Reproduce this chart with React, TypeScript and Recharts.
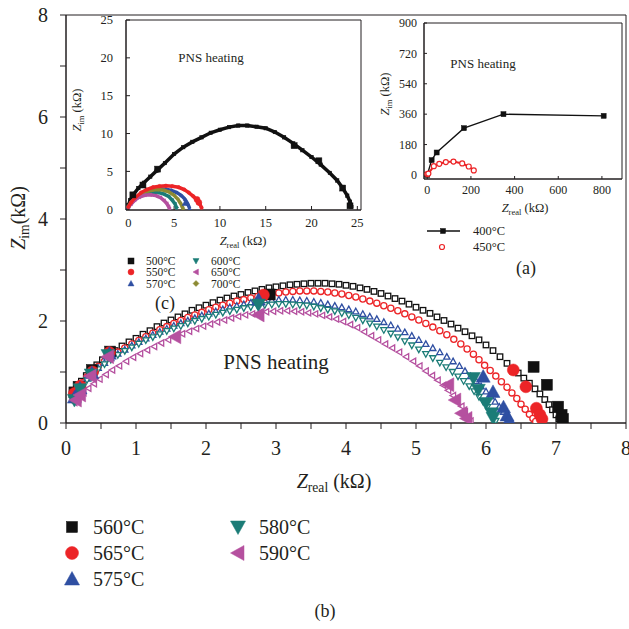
import React from "react";
import { ScatterChart, Scatter, XAxis, YAxis, ReferenceArea } from "recharts";

const FONT = "'Liberation Serif', 'DejaVu Serif', serif";
const INK = "#231f20";

// ---- main panel (b): fitted arcs, kOhm ----
const arc560 = [[0.10,0.62],[0.16,0.72],[0.22,0.82],[0.29,0.93],[0.36,1.04],[0.44,1.14],[0.52,1.24],[0.61,1.33],[0.70,1.42],[0.80,1.51],[0.90,1.59],[1.00,1.66],[1.10,1.74],[1.20,1.81],[1.30,1.89],[1.40,1.96],[1.50,2.02],[1.60,2.08],[1.70,2.14],[1.80,2.21],[1.90,2.26],[2.00,2.31],[2.10,2.36],[2.20,2.41],[2.30,2.45],[2.40,2.49],[2.50,2.52],[2.60,2.56],[2.70,2.59],[2.80,2.62],[2.90,2.65],[3.00,2.67],[3.10,2.69],[3.20,2.71],[3.30,2.72],[3.40,2.73],[3.50,2.74],[3.60,2.74],[3.70,2.74],[3.80,2.73],[3.90,2.72],[4.00,2.70],[4.10,2.68],[4.20,2.65],[4.30,2.62],[4.40,2.58],[4.50,2.54],[4.60,2.49],[4.70,2.44],[4.80,2.39],[4.90,2.33],[5.00,2.27],[5.10,2.21],[5.20,2.15],[5.30,2.08],[5.40,2.01],[5.50,1.94],[5.60,1.86],[5.70,1.79],[5.80,1.71],[5.90,1.63],[6.00,1.53],[6.10,1.42],[6.20,1.30],[6.30,1.17],[6.38,1.07],[6.46,0.98],[6.54,0.88],[6.62,0.78],[6.70,0.67],[6.77,0.57],[6.84,0.46],[6.90,0.36],[6.95,0.26],[7.00,0.16],[7.04,0.08],[7.07,0.02]];
const arc565 = [[0.10,0.58],[0.16,0.68],[0.23,0.79],[0.30,0.90],[0.38,1.01],[0.46,1.11],[0.55,1.21],[0.64,1.30],[0.74,1.39],[0.84,1.47],[0.94,1.55],[1.04,1.62],[1.14,1.69],[1.24,1.76],[1.34,1.83],[1.44,1.89],[1.54,1.95],[1.64,2.01],[1.74,2.07],[1.84,2.12],[1.94,2.17],[2.04,2.22],[2.14,2.27],[2.24,2.31],[2.34,2.35],[2.44,2.39],[2.54,2.42],[2.64,2.45],[2.74,2.48],[2.84,2.51],[2.94,2.53],[3.04,2.55],[3.14,2.57],[3.24,2.58],[3.34,2.59],[3.44,2.59],[3.54,2.59],[3.64,2.58],[3.74,2.57],[3.84,2.55],[3.94,2.53],[4.04,2.50],[4.14,2.47],[4.24,2.43],[4.34,2.39],[4.44,2.35],[4.54,2.30],[4.64,2.25],[4.74,2.20],[4.84,2.14],[4.94,2.08],[5.04,2.02],[5.14,1.95],[5.24,1.88],[5.34,1.81],[5.44,1.73],[5.54,1.64],[5.64,1.55],[5.73,1.45],[5.82,1.35],[5.90,1.24],[5.98,1.13],[6.06,1.03],[6.14,0.92],[6.22,0.81],[6.30,0.70],[6.37,0.59],[6.44,0.48],[6.50,0.37],[6.56,0.27],[6.62,0.17],[6.67,0.09],[6.71,0.03]];
const arc575 = [[0.10,0.55],[0.16,0.65],[0.23,0.76],[0.30,0.87],[0.38,0.98],[0.46,1.08],[0.55,1.18],[0.64,1.27],[0.74,1.36],[0.84,1.44],[0.94,1.52],[1.04,1.59],[1.14,1.66],[1.24,1.73],[1.34,1.79],[1.44,1.85],[1.54,1.91],[1.64,1.96],[1.74,2.01],[1.84,2.06],[1.94,2.11],[2.04,2.15],[2.14,2.19],[2.24,2.23],[2.34,2.27],[2.44,2.30],[2.54,2.33],[2.64,2.36],[2.74,2.38],[2.84,2.40],[2.94,2.41],[3.04,2.42],[3.14,2.42],[3.24,2.42],[3.34,2.41],[3.44,2.40],[3.54,2.38],[3.64,2.36],[3.74,2.33],[3.84,2.30],[3.94,2.27],[4.04,2.23],[4.14,2.19],[4.24,2.14],[4.34,2.09],[4.44,2.04],[4.54,1.98],[4.64,1.92],[4.74,1.85],[4.84,1.78],[4.94,1.71],[5.04,1.63],[5.14,1.55],[5.24,1.47],[5.34,1.39],[5.44,1.30],[5.53,1.21],[5.62,1.12],[5.70,1.02],[5.78,0.92],[5.86,0.82],[5.93,0.72],[6.00,0.62],[6.07,0.52],[6.13,0.42],[6.19,0.32],[6.25,0.22],[6.30,0.13],[6.34,0.05]];
const arc580 = [[0.10,0.52],[0.16,0.62],[0.23,0.73],[0.30,0.84],[0.38,0.95],[0.46,1.05],[0.55,1.15],[0.64,1.24],[0.74,1.33],[0.84,1.41],[0.94,1.48],[1.04,1.55],[1.14,1.62],[1.24,1.68],[1.34,1.74],[1.44,1.80],[1.54,1.85],[1.64,1.90],[1.74,1.95],[1.84,2.00],[1.94,2.04],[2.04,2.08],[2.14,2.12],[2.24,2.16],[2.34,2.19],[2.44,2.22],[2.54,2.25],[2.64,2.27],[2.74,2.29],[2.84,2.31],[2.94,2.32],[3.04,2.33],[3.14,2.33],[3.24,2.32],[3.34,2.31],[3.44,2.30],[3.54,2.28],[3.64,2.25],[3.74,2.22],[3.84,2.19],[3.94,2.15],[4.04,2.11],[4.14,2.06],[4.24,2.01],[4.34,1.95],[4.44,1.89],[4.54,1.82],[4.64,1.75],[4.74,1.68],[4.84,1.60],[4.94,1.52],[5.04,1.44],[5.14,1.35],[5.24,1.27],[5.34,1.18],[5.43,1.09],[5.52,1.00],[5.60,0.91],[5.68,0.82],[5.76,0.72],[5.83,0.62],[5.90,0.51],[5.96,0.41],[6.02,0.31],[6.07,0.21],[6.11,0.12],[6.14,0.04]];
const arc590 = [[0.12,0.40],[0.18,0.49],[0.25,0.59],[0.32,0.68],[0.40,0.77],[0.48,0.86],[0.57,0.95],[0.66,1.04],[0.76,1.12],[0.86,1.21],[0.96,1.29],[1.06,1.36],[1.16,1.43],[1.26,1.50],[1.36,1.57],[1.46,1.63],[1.56,1.69],[1.66,1.75],[1.76,1.80],[1.86,1.85],[1.96,1.90],[2.06,1.94],[2.16,1.98],[2.26,2.02],[2.36,2.06],[2.46,2.09],[2.56,2.12],[2.66,2.14],[2.76,2.16],[2.86,2.18],[2.96,2.19],[3.06,2.20],[3.16,2.20],[3.26,2.19],[3.36,2.18],[3.46,2.16],[3.56,2.14],[3.66,2.11],[3.76,2.08],[3.86,2.04],[3.96,1.99],[4.06,1.93],[4.16,1.87],[4.26,1.79],[4.36,1.71],[4.46,1.63],[4.56,1.55],[4.66,1.47],[4.76,1.39],[4.86,1.30],[4.96,1.21],[5.05,1.12],[5.14,1.02],[5.23,0.93],[5.31,0.84],[5.39,0.74],[5.46,0.64],[5.53,0.54],[5.59,0.44],[5.65,0.33],[5.70,0.22],[5.74,0.12],[5.78,0.04]];

// ---- main panel (b): measured points (large filled markers) ----
const pts560 = [[0.12,0.60],[0.18,0.71],[0.37,1.04],[0.63,1.40],[2.91,2.52],[6.68,1.10],[6.87,0.75],[7.03,0.32],[7.08,0.16],[7.10,0.08]];
const pts565 = [[0.12,0.58],[0.20,0.72],[0.38,1.00],[0.62,1.38],[2.82,2.51],[6.39,1.04],[6.57,0.71],[6.72,0.29],[6.77,0.16],[6.80,0.08]];
const pts575 = [[0.12,0.50],[0.20,0.68],[0.37,0.98],[0.62,1.36],[2.75,2.42],[5.96,0.91],[6.10,0.61],[6.25,0.31],[6.30,0.15],[6.33,0.06]];
const pts580 = [[0.12,0.45],[0.20,0.66],[0.36,0.95],[0.60,1.33],[2.75,2.32],[5.82,0.88],[5.89,0.65],[6.00,0.39],[6.08,0.19],[6.10,0.10]];
const pts590 = [[0.14,0.45],[0.20,0.55],[0.35,0.92],[0.60,1.30],[1.56,1.69],[2.75,2.12],[5.46,0.75],[5.56,0.45],[5.65,0.19],[5.72,0.09]];

// ---- inset (c) ----
const c500 = [[0.0,0.5],[0.2,1.2],[0.6,2.0],[1.1,2.8],[1.7,3.5],[2.4,4.3],[3.1,5.1],[4.0,6.1],[5.0,7.3],[6.0,8.2],[7.0,8.9],[8.0,9.5],[9.0,10.1],[10.0,10.5],[11.0,10.85],[12.0,11.05],[13.0,11.05],[14.0,10.9],[15.0,10.7],[16.0,10.2],[17.0,9.5],[18.0,8.7],[19.0,7.8],[20.0,6.9],[21.0,5.9],[22.0,4.8],[22.8,3.8],[23.4,2.8],[23.9,1.8],[24.2,1.0],[24.35,0.3]];
const c500pts = [[0.5,1.9],[1.6,3.2],[3.2,5.3],[18.1,8.4],[20.8,6.4],[23.4,2.8],[24.2,0.45]];
const c550 = [[0.0,0.3],[0.3,0.9],[0.8,1.6],[1.4,2.2],[2.0,2.6],[2.7,2.9],[3.4,3.05],[4.1,3.1],[4.8,3.05],[5.5,2.9],[6.1,2.6],[6.6,2.2],[7.1,1.7],[7.5,1.2],[7.8,0.7],[8.0,0.2]];
const c550pts = [[7.5,1.3],[7.7,0.9]];
const c570 = [[0.0,0.3],[0.3,0.8],[0.8,1.4],[1.4,1.95],[2.0,2.35],[2.7,2.6],[3.4,2.7],[4.1,2.65],[4.7,2.5],[5.3,2.2],[5.8,1.8],[6.2,1.3],[6.5,0.7],[6.7,0.1]];
const c570pts = [[6.2,0.8]];
const c600 = [[0.0,0.3],[0.3,0.8],[0.8,1.35],[1.4,1.8],[2.0,2.1],[2.7,2.25],[3.3,2.2],[3.9,2.0],[4.4,1.7],[4.8,1.2],[5.1,0.7],[5.3,0.1]];
const c650 = [[0.0,0.25],[0.3,0.7],[0.7,1.2],[1.2,1.6],[1.8,1.85],[2.4,1.9],[3.0,1.8],[3.5,1.55],[3.9,1.15],[4.2,0.75],[4.4,0.35],[4.5,0.05]];
const c700 = [[0.0,0.35],[0.3,0.9],[0.8,1.5],[1.4,2.0],[2.0,2.35],[2.7,2.55],[3.3,2.6],[3.9,2.5],[4.5,2.25],[5.0,1.85],[5.4,1.35],[5.7,0.8],[5.9,0.3],[6.0,0.05]];

// ---- inset (a) ----
const a400 = [[0,0],[20,88],[43,133],[168,277],[349,360],[808,350]];
const a450 = [[0,5],[5,8],[30,52],[55,66],[85,76],[120,79],[160,68],[190,50],[213,27]];

const mainXTicks = [0,0.5,1,1.5,2,2.5,3,3.5,4,4.5,5,5.5,6,6.5,7,7.5,8];
const mainYTicks = [0,1,2,3,4,5,6,7,8];
const cTicks = [0,5,10,15,20,25];
const aXTicks = [0,200,400,600,800];
const aYTicks = [0,180,360,540,720,900];

const toPts = (a: number[][]) => a.map(([x, y]) => ({ x, y }));

type Kind = "square" | "circle" | "up" | "down" | "left" | "diamond";

const Mark = ({ kind, cx, cy, s, fill, stroke, sw }: any) => {
  const h = s / 2;
  if (cx == null || cy == null) return null;
  const common = { fill, stroke, strokeWidth: sw };
  switch (kind as Kind) {
    case "square":
      return <rect x={cx - h} y={cy - h} width={s} height={s} {...common} />;
    case "circle":
      return <circle cx={cx} cy={cy} r={h} {...common} />;
    case "up":
      return <path d={`M${cx},${cy - h}L${cx + h},${cy + h * 0.8}L${cx - h},${cy + h * 0.8}Z`} {...common} />;
    case "down":
      return <path d={`M${cx},${cy + h}L${cx + h},${cy - h * 0.8}L${cx - h},${cy - h * 0.8}Z`} {...common} />;
    case "left":
      return <path d={`M${cx - h},${cy}L${cx + h * 0.8},${cy - h}L${cx + h * 0.8},${cy + h}Z`} {...common} />;
    default:
      return <path d={`M${cx},${cy - h}L${cx + h},${cy}L${cx},${cy + h}L${cx - h},${cy}Z`} {...common} />;
  }
};

const shape = (kind: Kind, s: number, fill: string, stroke: string, sw = 1) => (p: any) => (
  <Mark kind={kind} cx={p.cx} cy={p.cy} s={s} fill={fill} stroke={stroke} sw={sw} />
);

const BLACK = "#111111";
const RED = "#ec2427";
const BLUE = "#2f4fa2";
const TEAL = "#1b7c77";
const MAGENTA = "#b5509f";
const OLIVE = "#8c8a33";

const mainSeries = [
  { name: "560°C", arc: arc560, pts: pts560, kind: "square" as Kind, color: BLACK, big: 11 },
  { name: "565°C", arc: arc565, pts: pts565, kind: "circle" as Kind, color: RED, big: 12 },
  { name: "575°C", arc: arc575, pts: pts575, kind: "up" as Kind, color: BLUE, big: 14 },
  { name: "580°C", arc: arc580, pts: pts580, kind: "down" as Kind, color: TEAL, big: 14 },
  { name: "590°C", arc: arc590, pts: pts590, kind: "left" as Kind, color: MAGENTA, big: 14 },
];

const insetSeries = [
  { name: "500°C", arc: c500, pts: c500pts, kind: "square" as Kind, color: BLACK },
  { name: "570°C", arc: c570, pts: c570pts, kind: "up" as Kind, color: BLUE },
  { name: "600°C", arc: c600, pts: [], kind: "down" as Kind, color: TEAL },
  { name: "700°C", arc: c700, pts: [], kind: "diamond" as Kind, color: OLIVE },
  { name: "650°C", arc: c650, pts: [], kind: "left" as Kind, color: MAGENTA },
  { name: "550°C", arc: c550, pts: c550pts, kind: "circle" as Kind, color: RED },
];

const ZTitle = ({ x, y, sub, size, rotate, gap = " " }: any) => (
  <text
    x={x}
    y={y}
    textAnchor="middle"
    dominantBaseline="central"
    fontFamily={FONT}
    fontSize={size}
    fill={INK}
    transform={rotate ? `rotate(-90 ${x} ${y})` : undefined}
  >
    <tspan fontStyle="italic">Z</tspan>
    <tspan fontSize={size * 0.68} dy={size * 0.3}>{sub}</tspan>
    <tspan dy={-size * 0.3}>{gap + "(kΩ)"}</tspan>
  </text>
);

const Txt = ({ x, y, size, children, anchor = "start" }: any) => (
  <text x={x} y={y} fontFamily={FONT} fontSize={size} fill={INK} textAnchor={anchor} dominantBaseline="central">
    {children}
  </text>
);

const tickStyle = (size: number) => ({ fontSize: size, fontFamily: FONT, fill: INK });

export default function App() {
  return (
    <div style={{ position: "absolute", left: 0, top: 0, width: 629, height: 629, background: "#fff" }}>
      {/* main panel (b) */}
      <div style={{ position: "absolute", left: 0, top: 0 }}>
        <ScatterChart width={629} height={629} margin={{ top: 15, right: 3, bottom: 176, left: 26 }}>
          <XAxis
            type="number"
            dataKey="x"
            domain={[0, 8]}
            ticks={mainXTicks}
            interval={0}
            tickFormatter={(v: number) => (Number.isInteger(v) ? String(v) : "")}
            tick={tickStyle(20)}
            tickSize={6}
            tickMargin={12}
            stroke={INK}
            height={30}
            allowDataOverflow
          />
          <YAxis
            type="number"
            dataKey="y"
            domain={[0, 8]}
            ticks={mainYTicks}
            interval={0}
            tickFormatter={(v: number) => (v % 2 === 0 ? String(v) : "")}
            tick={tickStyle(20)}
            tickSize={6}
            tickMargin={12}
            stroke={INK}
            width={40}
            allowDataOverflow
          />
          <ReferenceArea x1={0} x2={8} y1={0} y2={8} fill="none" stroke={INK} strokeWidth={1} />
          {mainSeries.map((s) => (
            <Scatter
              key={"arc" + s.name}
              data={toPts(s.arc)}
              shape={shape(s.kind, s.kind === "square" ? 5.5 : 6.2, "#fff", s.color, 1.3)}
              isAnimationActive={false}
            />
          ))}
          {mainSeries.map((s) => (
            <Scatter
              key={"pts" + s.name}
              data={toPts(s.pts)}
              shape={shape(s.kind, s.big, s.color, s.color, 0.5)}
              isAnimationActive={false}
            />
          ))}
        </ScatterChart>
      </div>

      {/* inset (c) */}
      <div style={{ position: "absolute", left: 0, top: 0 }}>
        <ScatterChart width={400} height={260} margin={{ top: 20, right: 39, bottom: 20, left: 96 }}>
          <XAxis
            type="number"
            dataKey="x"
            domain={[-0.25, 25.4]}
            ticks={cTicks}
            interval={0}
            tick={tickStyle(12.5)}
            tickSize={-4}
            tickMargin={12}
            stroke={INK}
            height={30}
            allowDataOverflow
          />
          <YAxis
            type="number"
            dataKey="y"
            domain={[-0.1, 25]}
            ticks={cTicks}
            interval={0}
            tick={tickStyle(12.5)}
            tickSize={-4}
            tickMargin={17}
            stroke={INK}
            width={30}
            allowDataOverflow
          />
          <ReferenceArea x1={-0.25} x2={25.4} y1={-0.1} y2={25} fill="none" stroke={INK} strokeWidth={1} />
          {insetSeries.map((s) => (
            <Scatter
              key={"c" + s.name}
              data={toPts(s.arc)}
              line={{ stroke: s.color, strokeWidth: 3.5 }}
              lineType="joint"
              shape={shape(s.kind, 3.5, s.color, s.color, 0.5)}
              isAnimationActive={false}
            />
          ))}
          {insetSeries.map((s) => (
            <Scatter
              key={"cp" + s.name}
              data={toPts(s.pts)}
              shape={shape(s.kind, 6, s.color, s.color, 0.5)}
              isAnimationActive={false}
            />
          ))}
        </ScatterChart>
      </div>

      {/* inset (a) */}
      <div style={{ position: "absolute", left: 0, top: 0 }}>
        <ScatterChart width={629} height={260} margin={{ top: 23, right: 7, bottom: 51, left: 394 }}>
          <XAxis
            type="number"
            dataKey="x"
            domain={[-15, 892]}
            ticks={aXTicks}
            interval={0}
            tick={tickStyle(12)}
            tickSize={-3}
            tickMargin={9}
            stroke={INK}
            height={30}
            allowDataOverflow
          />
          <YAxis
            type="number"
            dataKey="y"
            domain={[-24, 900]}
            ticks={aYTicks}
            interval={0}
            tick={tickStyle(12)}
            tickSize={-3}
            tickMargin={10}
            stroke={INK}
            width={30}
            allowDataOverflow
          />
          <ReferenceArea x1={-15} x2={892} y1={-24} y2={900} fill="none" stroke={INK} strokeWidth={1} />
          <Scatter
            data={toPts(a400)}
            line={{ stroke: BLACK, strokeWidth: 1.3 }}
            lineType="joint"
            shape={shape("square", 5, BLACK, BLACK, 0.5)}
            isAnimationActive={false}
          />
          <Scatter
            data={toPts(a450)}
            line={{ stroke: RED, strokeWidth: 2 }}
            lineType="joint"
            shape={shape("circle", 5, "#fff", RED, 1.2)}
            isAnimationActive={false}
          />
        </ScatterChart>
      </div>

      {/* titles, labels and legends */}
      <svg width={629} height={629} style={{ position: "absolute", left: 0, top: 0, pointerEvents: "none" }}>
        {/* main */}
        <ZTitle x={18} y={218} sub="im" size={20} rotate gap="" />
        <ZTitle x={334} y={481} sub="real" size={20} />
        <Txt x={276} y={362} size={21} anchor="middle">PNS heating</Txt>
        <Txt x={165} y={303} size={18} anchor="middle">(c)</Txt>
        <Txt x={526} y={268} size={18} anchor="middle">(a)</Txt>
        <Txt x={325} y={611} size={18} anchor="middle">(b)</Txt>
        {mainSeries.map((s, i) => {
          const col = i < 3 ? 0 : 1;
          const row = i < 3 ? i : i - 3;
          const mx = col === 0 ? 72 : 238;
          const tx = col === 0 ? 93 : 259;
          const y = [527, 553, 579][row];
          return (
            <g key={"lg" + s.name}>
              <Mark kind={s.kind} cx={mx} cy={y} s={s.kind === "square" ? 11 : s.kind === "circle" ? 13 : 15} fill={s.color} stroke={s.color} sw={0.5} />
              <Txt x={tx} y={y} size={20}>{s.name}</Txt>
            </g>
          );
        })}

        {/* inset (c) */}
        <ZTitle x={77} y={110} sub="im" size={12.5} rotate />
        <ZTitle x={243} y={241} sub="real" size={12.5} />
        <Txt x={211} y={57} size={13} anchor="middle">PNS heating</Txt>
        {[
          { n: "500°C", k: "square", c: BLACK },
          { n: "550°C", k: "circle", c: RED },
          { n: "570°C", k: "up", c: BLUE },
          { n: "600°C", k: "down", c: TEAL },
          { n: "650°C", k: "left", c: MAGENTA },
          { n: "700°C", k: "diamond", c: OLIVE },
        ].map((e, i) => {
          const col = i < 3 ? 0 : 1;
          const y = [261, 272, 283.5][i % 3];
          const mx = col === 0 ? 131 : 196;
          const tx = col === 0 ? 146 : 211;
          return (
            <g key={"lc" + e.n}>
              <Mark kind={e.k} cx={mx} cy={y} s={6} fill={e.c} stroke={e.c} sw={0.5} />
              <Txt x={tx} y={y} size={11.5}>{e.n}</Txt>
            </g>
          );
        })}

        {/* inset (a) */}
        <ZTitle x={385} y={94} sub="im" size={12.5} rotate />
        <ZTitle x={525} y={208} sub="real" size={12.5} />
        <Txt x={483} y={63} size={13} anchor="middle">PNS heating</Txt>
        <line x1={427} y1={231} x2={460} y2={231} stroke={BLACK} strokeWidth={1.3} />
        <Mark kind="square" cx={443} cy={231} s={5} fill={BLACK} stroke={BLACK} sw={0.5} />
        <Txt x={473} y={231} size={12.5}>400°C</Txt>
        <Mark kind="circle" cx={442} cy={247} s={5} fill="#fff" stroke={RED} sw={1.2} />
        <Txt x={473} y={247} size={12.5}>450°C</Txt>
      </svg>
    </div>
  );
}
